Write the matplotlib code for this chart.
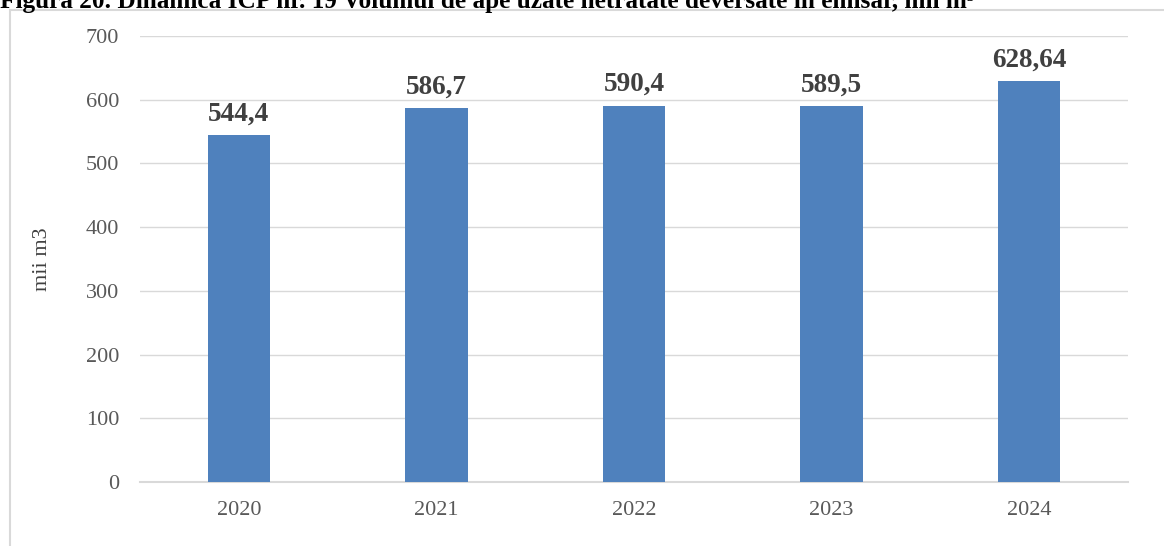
import matplotlib.pyplot as plt
from matplotlib.patches import Rectangle

plt.rcParams['font.family'] = ['Liberation Serif', 'DejaVu Serif']

ani = ['2020', '2021', '2022', '2023', '2024']
volum = [544.4, 586.7, 590.4, 589.5, 628.64]
etichete = ['544,4', '586,7', '590,4', '589,5', '628,64']

fig = plt.figure(figsize=(11.64, 5.46), dpi=100)

# chenarul graficului
fig.patches.append(Rectangle((10 / 1164, -0.1), 1.2, 1 - 10 / 546 + 0.1,
                             transform=fig.transFigure, fill=False,
                             edgecolor='#d9d9d9', linewidth=1.5))

# titlul, taiat sus
fig.text(0.0, 1 - 8 / 546, 'Figura 20. Dinamica ICP nr. 19 Volumul de ape uzate netratate deversate în emisar, mii m³',
         fontsize=18.2, fontweight='bold', color='black', ha='left', va='baseline')

ax = fig.add_axes([140 / 1164, 64 / 546, 988 / 1164, (482 - 36) / 546])
x = range(len(ani))
ax.bar(x, volum, width=0.315, color='#4f81bd', zorder=3)
for xi, v, t in zip(x, volum, etichete):
    ax.text(xi, v + 14, t, ha='center', va='bottom', fontsize=19.5,
            fontweight='bold', color='#404040')

ax.set_xlim(-0.5, 4.5)
ax.set_ylim(0, 700)
ax.set_yticks(range(0, 701, 100))
ax.set_xticks(list(x))
ax.set_xticklabels(ani)
ax.grid(axis='y', color='#d9d9d9', linewidth=1, zorder=0)
for s in ['top', 'right', 'left']:
    ax.spines[s].set_visible(False)
ax.spines['bottom'].set_color('#d9d9d9')
ax.spines['bottom'].set_linewidth(1.5)
ax.tick_params(length=0, labelsize=16, labelcolor='#595959', pad=14)
ax.tick_params(axis='y', pad=15)
ax.set_ylabel('mii m3', fontsize=16, color='#404040', labelpad=24)

plt.savefig('out.png', dpi=100)
